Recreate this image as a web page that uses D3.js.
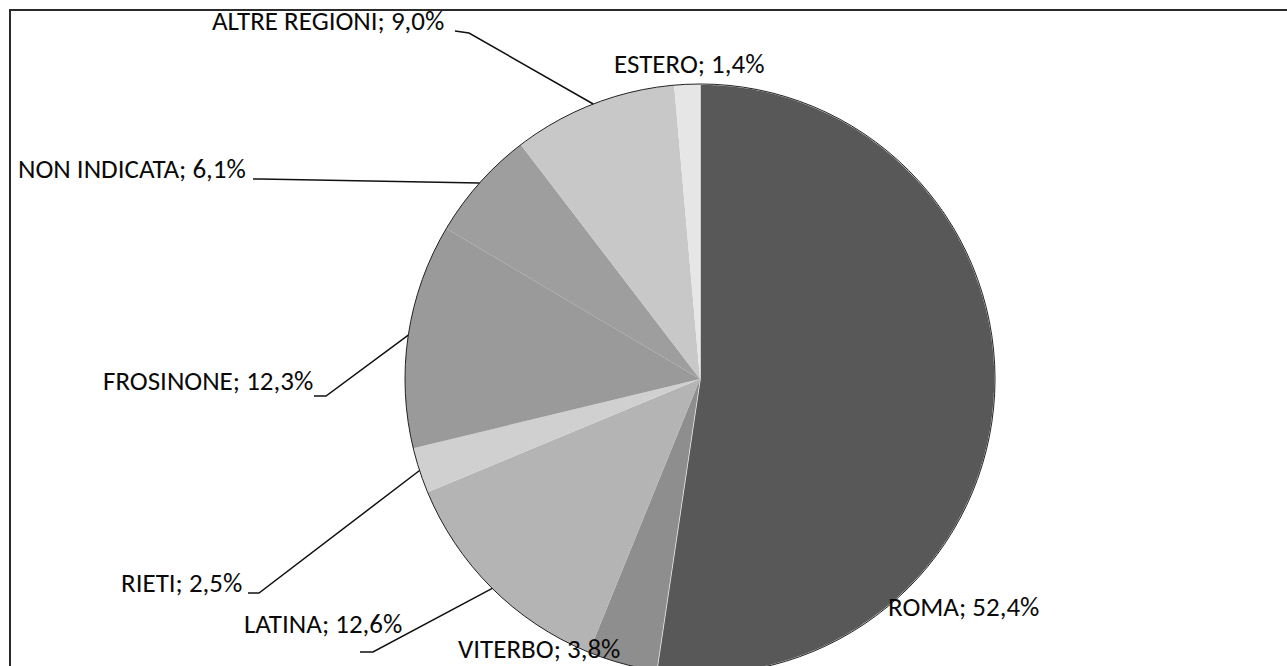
<!DOCTYPE html>
<html>
<head>
<meta charset="utf-8">
<script src="https://cdn.jsdelivr.net/npm/d3@7"></script>
<style>
  html, body { margin: 0; padding: 0; background: #fff; }
  svg { display: block; }
  .lbl { font-family: Carlito, "Liberation Sans Narrow", "Open Sans", sans-serif; font-size: 27px; fill: #0a0a0a; }
</style>
</head>
<body>
<svg></svg>
<script>
// categories clockwise from 12 o'clock
let categories = ['ROMA', 'VITERBO', 'LATINA', 'RIETI', 'FROSINONE', 'NON INDICATA', 'ALTRE REGIONI', 'ESTERO']
let values = [52.4, 3.8, 12.6, 2.5, 12.3, 6.1, 9.0, 1.4]

// grey shades for each slice
let colors = ['#585858', '#8e8e8e', '#b4b4b4', '#d0d0d0', '#9a9a9a', '#9e9e9e', '#c8c8c8', '#e6e6e6']

let width = 1287
let height = 666
let cx = 700
let cy = 379
let radius = 295

// where each label sits (baseline left) and its leader tick, null = no leader
let labelLayout = [
    {x: 888, y: 616, tick: null},
    {x: 458, y: 658, tick: null},
    {x: 244, y: 633, tick: [360, 652, 373, 652]},
    {x: 121, y: 592, tick: [248, 593, 259, 593]},
    {x: 103, y: 390, tick: [314, 396, 326, 396]},
    {x: 18, y: 178, tick: [253, 179, 260, 179]},
    {x: 212, y: 30, tick: [455, 31, 469, 33]},
    {x: 614, y: 73, tick: null}
]

let fmt = (v) => d3.format('.1f')(v).replace('.', ',') + '%'

let svg = d3.select('svg')
    .attr('width', width)
    .attr('height', height)

// frame around the chart area
svg.append('rect')
    .attr('x', 10)
    .attr('y', 10)
    .attr('width', width + 20)
    .attr('height', height + 20)
    .attr('fill', 'none')
    .attr('stroke', '#2a2a2a')
    .attr('stroke-width', 2)

let pie = d3.pie().sort(null).value((d) => d)
let arcs = pie(values)

let arc = d3.arc().innerRadius(0).outerRadius(radius)
let edgeArc = d3.arc().innerRadius(radius).outerRadius(radius)

let g = svg.append('g')
    .attr('transform', 'translate(' + cx + ',' + cy + ')')

g.selectAll('path.slice')
    .data(arcs)
    .enter()
    .append('path')
    .attr('class', 'slice')
    .attr('d', arc)
    .attr('fill', (d, i) => colors[i])
    .attr('stroke', (d, i) => i == 0 ? '#f2f2f2' : 'none')
    .attr('stroke-width', 1.5)

// dark outer rim
g.append('circle')
    .attr('r', radius)
    .attr('fill', 'none')
    .attr('stroke', '#222')
    .attr('stroke-width', 1)

// leader lines
arcs.forEach((d, i) => {
    let t = labelLayout[i].tick
    if (!t) return
    let p = edgeArc.centroid(d)
    let pts = [[t[0], t[1]], [t[2], t[3]], [p[0] + cx, p[1] + cy]]
    svg.append('path')
        .attr('d', d3.line()(pts))
        .attr('fill', 'none')
        .attr('stroke', '#111')
        .attr('stroke-width', 1.5)
})

// labels
svg.selectAll('text.lbl')
    .data(arcs)
    .enter()
    .append('text')
    .attr('class', 'lbl')
    .attr('x', (d, i) => labelLayout[i].x)
    .attr('y', (d, i) => labelLayout[i].y)
    .text((d, i) => categories[i] + '; ' + fmt(values[i]))
</script>
</body>
</html>
